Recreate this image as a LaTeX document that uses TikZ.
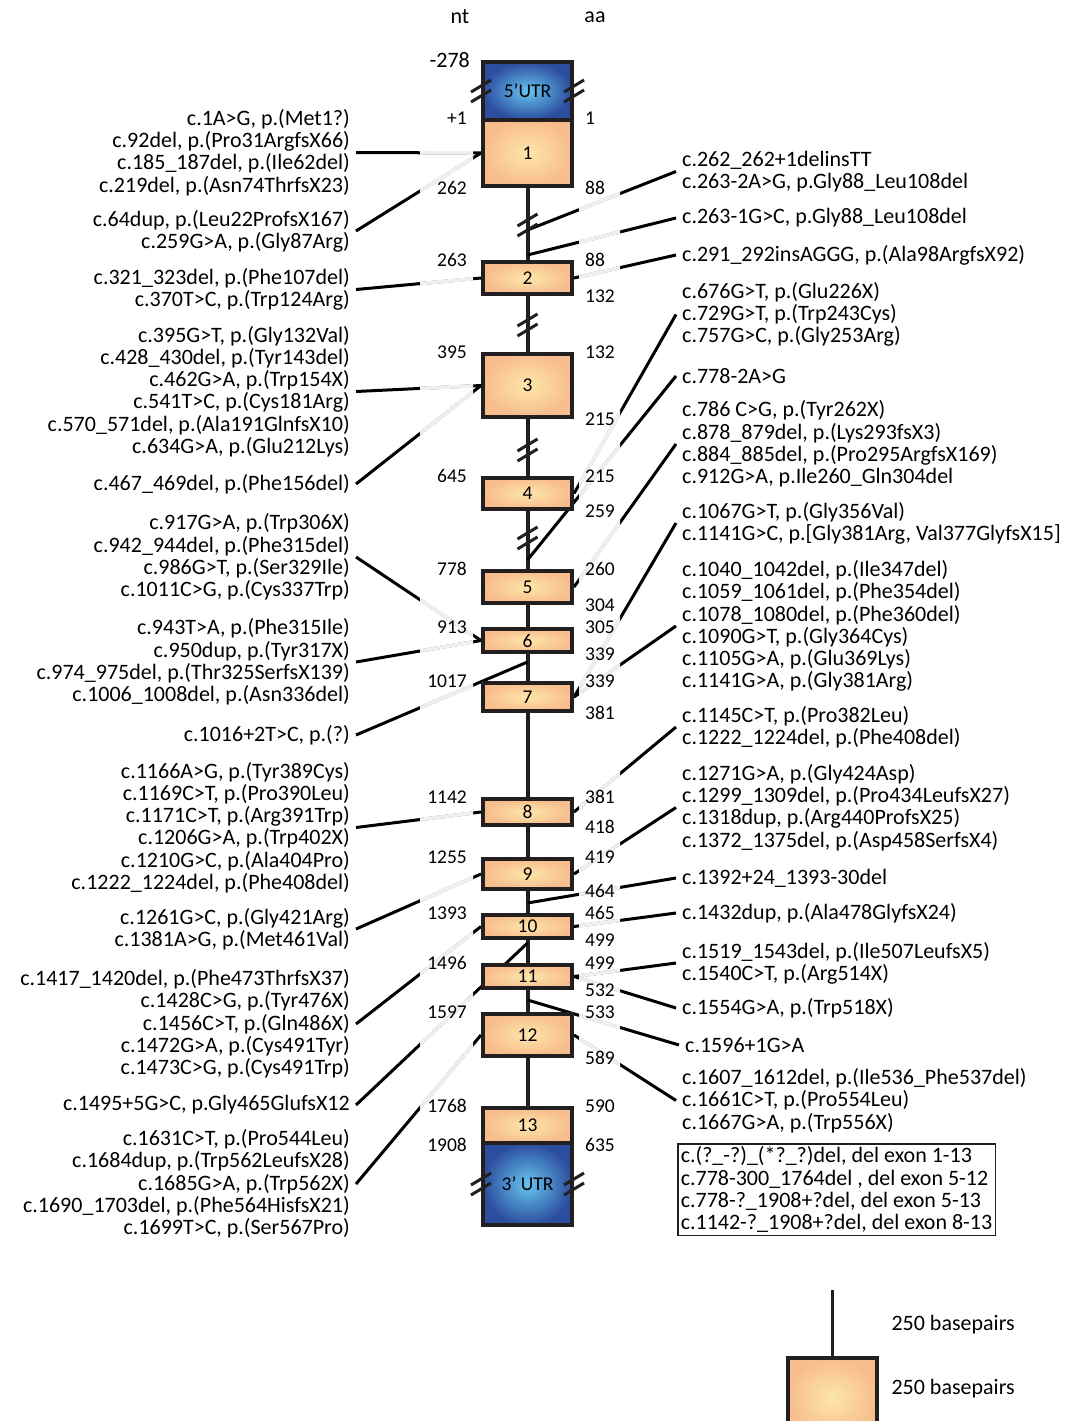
\documentclass[tikz,border=0pt]{standalone}
\usepackage{fontspec}
\setmainfont{Carlito}

\definecolor{exonin}{HTML}{FDE6AB}
\definecolor{exonout}{HTML}{F7BD8C}
\definecolor{utrin}{HTML}{66C4F0}
\definecolor{utrout}{HTML}{2D4E9E}
\definecolor{edge}{HTML}{231F20}
\definecolor{fadegrey}{HTML}{EFEFEF}

\pgfdeclarelayer{bg}
\pgfsetlayers{bg,main}

% line from a mutation label to its exon, pale where it crosses the numbers
\newcommand{\mutlink}[2]{%
  \draw[mutline] (#1) -- (#2);
  \begin{scope}
    \clip (420,0) rectangle (473,1421) (579,0) rectangle (620,1421);
    \draw[mutfade] (#1) -- (#2);
  \end{scope}}

\begin{document}
\begin{tikzpicture}[x=1pt,y=-1pt,
  exon/.style={draw=edge,line width=4pt,inner color=exonin,outer color=exonout,
    minimum width=89pt,inner sep=0pt,font=\fontsize{19.5}{19.5}\selectfont},
  utr/.style={exon,inner color=utrin,outer color=utrout},
  mut/.style={inner sep=0pt,inner xsep=6pt,font=\fontsize{22}{22.3}\selectfont},
  lmut/.style={mut,anchor=east,align=right},
  rmut/.style={mut,anchor=west,align=left},
  ntnum/.style={anchor=east,xshift=-14pt,inner sep=0pt,font=\fontsize{19.5}{19.5}\selectfont},
  aanum/.style={anchor=west,xshift=11pt,inner sep=0pt,font=\fontsize{19.5}{19.5}\selectfont},
  intron/.style={draw=edge,line width=4pt},
  mutline/.style={line width=3pt},
  mutfade/.style={draw=fadegrey,line width=3.6pt},
  brk/.pic={\draw[edge,line width=3pt] (-10,1) -- (10,-11) (-10,11) -- (10,-1);}]
  \useasboundingbox (0,0) rectangle (1066,1421);

  \node[font=\fontsize{22}{22}\selectfont] (nt) at (460,17) {nt};
  \node[font=\fontsize{22}{22}\selectfont] (aa) at (595,17) {aa};

  \node[utr,minimum height=58pt]  (utr5) at (527.5,91)     {5’UTR};
  \node[exon,minimum height=66pt] (e1)   at (527.5,153)    {1};
  \node[exon,minimum height=32pt] (e2)   at (527.5,278)    {2};
  \node[exon,minimum height=63pt] (e3)   at (527.5,385.5)  {3};
  \node[exon,minimum height=31pt] (e4)   at (527.5,493.5)  {4};
  \node[exon,minimum height=32pt] (e5)   at (527.5,587)    {5};
  \node[exon,minimum height=23pt] (e6)   at (527.5,640.5)  {6};
  \node[exon,minimum height=28pt] (e7)   at (527.5,697)    {7};
  \node[exon,minimum height=26pt] (e8)   at (527.5,812)    {8};
  \node[exon,minimum height=30pt] (e9)   at (527.5,874)    {9};
  \node[exon,minimum height=23pt] (e10)  at (527.5,926.5)  {10};
  \node[exon,minimum height=23pt] (e11)  at (527.5,976.5)  {11};
  \node[exon,minimum height=42pt] (e12)  at (527.5,1035)   {12};
  \node[exon,minimum height=35pt] (e13)  at (527.5,1125.5) {13};
  \node[utr,minimum height=82pt]  (utr3) at (527.5,1184)   {3’ UTR};

  \coordinate (i1)  at (527.5,230);
  \coordinate (i1b) at (527.5,255);
  \coordinate (i4)  at (527.5,560);
  \coordinate (i6)  at (527.5,662);
  \coordinate (i9)  at (527.5,903);
  \coordinate (i10) at (527.5,943);
  \coordinate (i11) at (527.5,1000);

  \pic at (527.5,225) {brk};
  \pic at (527.5,325) {brk};
  \pic at (527.5,450) {brk};
  \pic at (527.5,538) {brk};
  \pic at (utr5.west) {brk};
  \pic at (utr5.east) {brk};
  \pic at (utr3.west) {brk};
  \pic at (utr3.east) {brk};

  % nt positions
  \node[ntnum,xshift=3pt,font=\fontsize{22}{22}\selectfont] at (utr5.north west) {-278};
  \node[ntnum] at (e1.north west)  {+1};
  \node[ntnum] at (e1.south west)  {262};
  \node[ntnum] at (e2.north west)  {263};
  \node[ntnum] at (e3.north west)  {395};
  \node[ntnum] at (e4.north west)  {645};
  \node[ntnum] at (e5.north west)  {778};
  \node[ntnum] at (e6.north west)  {913};
  \node[ntnum] at (e7.north west)  {1017};
  \node[ntnum] at (e8.north west)  {1142};
  \node[ntnum] at (e9.north west)  {1255};
  \node[ntnum] at (e10.north west) {1393};
  \node[ntnum] at (e11.north west) {1496};
  \node[ntnum] at (e12.north west) {1597};
  \node[ntnum] at (e13.north west) {1768};
  \node[ntnum] at (e13.south west) {1908};
  % aa positions
  \node[aanum] at (e1.north east)  {1};
  \node[aanum] at (e1.south east)  {88};
  \node[aanum] at (e2.north east)  {88};
  \node[aanum] at (e2.south east)  {132};
  \node[aanum] at (e3.north east)  {132};
  \node[aanum] at (e3.south east)  {215};
  \node[aanum] at (e4.north east)  {215};
  \node[aanum] at (e4.south east)  {259};
  \node[aanum] at (e5.north east)  {260};
  \node[aanum] at (e5.south east)  {304};
  \node[aanum] at (e6.north east)  {305};
  \node[aanum] at (e6.south east)  {339};
  \node[aanum] at (e7.north east)  {339};
  \node[aanum] at (e7.south east)  {381};
  \node[aanum] at (e8.north east)  {381};
  \node[aanum] at (e8.south east)  {418};
  \node[aanum] at (e9.north east)  {419};
  \node[aanum] at (e9.south east)  {464};
  \node[aanum] at (e10.north east) {465};
  \node[aanum] at (e10.south east) {499};
  \node[aanum] at (e11.north east) {499};
  \node[aanum] at (e11.south east) {532};
  \node[aanum] at (e12.north east) {533};
  \node[aanum] at (e12.south east) {589};
  \node[aanum] at (e13.north east) {590};
  \node[aanum] at (e13.south east) {635};

  % left mutations
  \node[lmut] (l1) at (356,152.5) {c.1A>G, p.(Met1?)\\c.92del, p.(Pro31ArgfsX66)\\c.185\_187del, p.(Ile62del)\\c.219del, p.(Asn74ThrfsX23)};
  \node[lmut] (l2) at (356,231) {c.64dup, p.(Leu22ProfsX167)\\c.259G>A, p.(Gly87Arg)};
  \node[lmut] (l3) at (356,289.5) {c.321\_323del, p.(Phe107del)\\c.370T>C, p.(Trp124Arg)};
  \node[lmut] (l4) at (356,391.5) {c.395G>T, p.(Gly132Val)\\c.428\_430del, p.(Tyr143del)\\c.462G>A, p.(Trp154X)\\c.541T>C, p.(Cys181Arg)\\c.570\_571del, p.(Ala191GlnfsX10)\\c.634G>A, p.(Glu212Lys)};
  \node[lmut] (l5) at (356,484) {c.467\_469del, p.(Phe156del)};
  \node[lmut] (l6) at (356,557) {c.917G>A, p.(Trp306X)\\c.942\_944del, p.(Phe315del)\\c.986G>T, p.(Ser329Ile)\\c.1011C>G, p.(Cys337Trp)};
  \node[lmut] (l7) at (356,662) {c.943T>A, p.(Phe315Ile)\\c.950dup, p.(Tyr317X)\\c.974\_975del, p.(Thr325SerfsX139)\\c.1006\_1008del, p.(Asn336del)};
  \node[lmut] (l8) at (356,735) {c.1016+2T>C, p.(?)};
  \node[lmut] (l9) at (356,827.5) {c.1166A>G, p.(Tyr389Cys)\\c.1169C>T, p.(Pro390Leu)\\c.1171C>T, p.(Arg391Trp)\\c.1206G>A, p.(Trp402X)\\c.1210G>C, p.(Ala404Pro)\\c.1222\_1224del, p.(Phe408del)};
  \node[lmut] (l10) at (356,929) {c.1261G>C, p.(Gly421Arg)\\c.1381A>G, p.(Met461Val)};
  \node[lmut] (l11) at (356,1024) {c.1417\_1420del, p.(Phe473ThrfsX37)\\c.1428C>G, p.(Tyr476X)\\c.1456C>T, p.(Gln486X)\\c.1472G>A, p.(Cys491Tyr)\\c.1473C>G, p.(Cys491Trp)};
  \node[lmut] (l12) at (356,1105) {c.1495+5G>C, p.Gly465GlufsX12};
  \node[lmut] (l13) at (356,1184) {c.1631C>T, p.(Pro544Leu)\\c.1684dup, p.(Trp562LeufsX28)\\c.1685G>A, p.(Trp562X)\\c.1690\_1703del, p.(Phe564HisfsX21)\\c.1699T>C, p.(Ser567Pro)};

  % right mutations
  \node[rmut] (r1) at (676,171.5) {c.262\_262+1delinsTT\\c.263-2A>G, p.Gly88\_Leu108del};
  \node[rmut] (r2) at (676,218) {c.263-1G>C, p.Gly88\_Leu108del};
  \node[rmut] (r3) at (676,255) {c.291\_292insAGGG, p.(Ala98ArgfsX92)};
  \node[rmut] (r4) at (676,314.5) {c.676G>T, p.(Glu226X)\\c.729G>T, p.(Trp243Cys)\\c.757G>C, p.(Gly253Arg)};
  \node[rmut] (r5) at (676,376) {c.778-2A>G};
  \node[rmut] (r6) at (676,444) {c.786 C>G, p.(Tyr262X)\\c.878\_879del, p.(Lys293fsX3)\\c.884\_885del, p.(Pro295ArgfsX169)\\c.912G>A, p.Ile260\_Gln304del};
  \node[rmut] (r7) at (676,523) {c.1067G>T, p.(Gly356Val)\\c.1141G>C, p.[Gly381Arg, Val377GlyfsX15]};
  \node[rmut] (r8) at (676,626) {c.1040\_1042del, p.(Ile347del)\\c.1059\_1061del, p.(Phe354del)\\c.1078\_1080del, p.(Phe360del)\\c.1090G>T, p.(Gly364Cys)\\c.1105G>A, p.(Glu369Lys)\\c.1141G>A, p.(Gly381Arg)};
  \node[rmut] (r9) at (676,727) {c.1145C>T, p.(Pro382Leu)\\c.1222\_1224del, p.(Phe408del)};
  \node[rmut] (r10) at (676,807.5) {c.1271G>A, p.(Gly424Asp)\\c.1299\_1309del, p.(Pro434LeufsX27)\\c.1318dup, p.(Arg440ProfsX25)\\c.1372\_1375del, p.(Asp458SerfsX4)};
  \node[rmut] (r11) at (676,878) {c.1392+24\_1393-30del};
  \node[rmut] (r12) at (676,913) {c.1432dup, p.(Ala478GlyfsX24)};
  \node[rmut] (r13) at (676,963) {c.1519\_1543del, p.(Ile507LeufsX5)\\c.1540C>T, p.(Arg514X)};
  \node[rmut] (r14) at (676,1008) {c.1554G>A, p.(Trp518X)};
  \node[rmut] (r15) at (679,1045) {c.1596+1G>A};
  \node[rmut] (r16) at (676,1100.5) {c.1607\_1612del, p.(Ile536\_Phe537del)\\c.1661C>T, p.(Pro554Leu)\\c.1667G>A, p.(Trp556X)};

  \node[draw=edge,line width=1.5pt,anchor=north west,align=left,inner sep=3pt,
    font=\fontsize{22}{22.3}\selectfont] (dels) at (677,1143)
    {c.(?\_-?)\_(*?\_?)del, del exon 1-13\\c.778-300\_1764del , del exon 5-12\\c.778-?\_1908+?del, del exon 5-13\\c.1142-?\_1908+?del, del exon 8-13};

  % scale
  \node[exon,minimum height=80pt,anchor=north] (key) at (832,1356) {};
  \coordinate (keytop) at (832,1290);
  \draw[intron,line width=3pt] (keytop) -- (key.north);
  \node[anchor=west,font=\fontsize{22}{22}\selectfont] (keyi) at (888,1325) {250 basepairs};
  \node[anchor=west,font=\fontsize{22}{22}\selectfont] (keye) at (888,1389) {250 basepairs};

  \begin{pgfonlayer}{bg}
    \draw[intron] (e1.south) -- (e13.north);
    \mutlink{l1.east}{e1.west}
    \mutlink{l2.east}{e1.west}
    \mutlink{l3.east}{e2.west}
    \mutlink{l4.east}{e3.west}
    \mutlink{l5.east}{e3.west}
    \mutlink{l6.east}{e6.west}
    \mutlink{l7.east}{e6.west}
    \mutlink{l8.east}{i6}
    \mutlink{l9.east}{e8.west}
    \mutlink{l10.east}{e9.west}
    \mutlink{l11.east}{e10.west}
    \mutlink{l12.east}{i10}
    \mutlink{l13.east}{e12.west}
    \mutlink{r1.west}{i1}
    \mutlink{r2.west}{i1b}
    \mutlink{r3.west}{e2.east}
    \mutlink{r4.west}{e4.east}
    \mutlink{r5.west}{i4}
    \mutlink{r6.west}{e5.east}
    \mutlink{r7.west}{e7.east}
    \mutlink{r8.west}{e7.east}
    \mutlink{r9.west}{e8.east}
    \mutlink{r10.west}{e9.east}
    \mutlink{r11.west}{i9}
    \mutlink{r12.west}{e10.east}
    \mutlink{r13.west}{e11.east}
    \mutlink{r14.west}{e11.east}
    \mutlink{r15.west}{i11}
    \mutlink{r16.west}{e12.east}
  \end{pgfonlayer}
\end{tikzpicture}
\end{document}
